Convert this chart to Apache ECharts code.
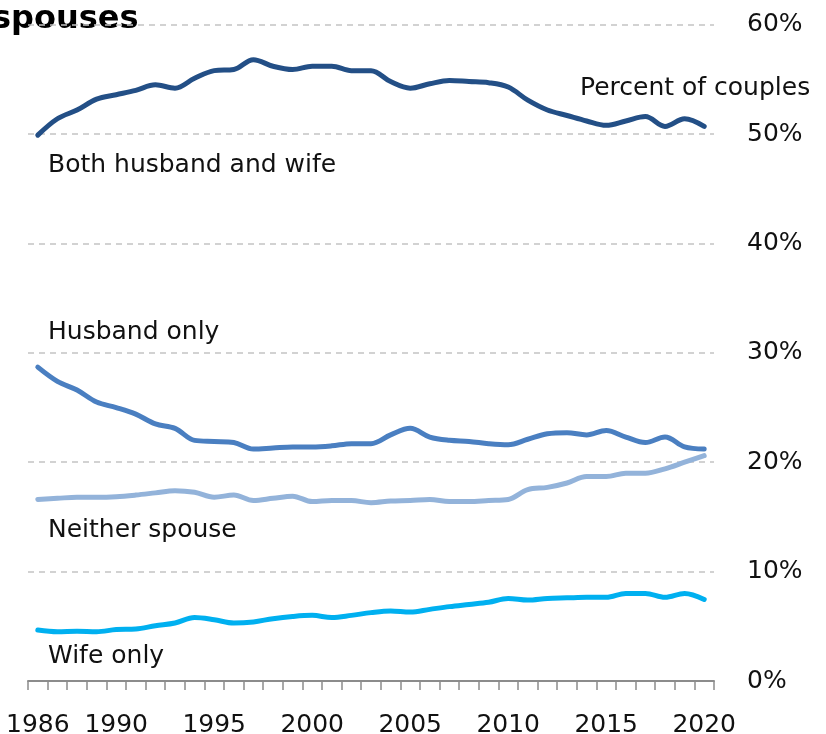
<!DOCTYPE html>
<html>
<head>
<meta charset="utf-8">
<title>Spouses</title>
<script src="https://cdn.jsdelivr.net/npm/echarts@6/dist/echarts.min.js"></script>
<style>
  html, body { margin: 0; padding: 0; background: #fff; }
  #chart { width: 826px; height: 734px; }
</style>
</head>
<body>
<div id="chart"></div>
<script>
// years on the x axis
var years = [];
for (var y = 1986; y <= 2020; y++) years.push(String(y));

// percent of couples
var bothSpouses = [49.9, 51.4, 52.2, 53.2, 53.6, 54.0, 54.5, 54.2, 55.1, 55.8,
  55.9, 56.8, 56.2, 55.9, 56.2, 56.2, 55.8, 55.8, 54.8, 54.2,
  54.6, 54.9, 54.8, 54.7, 54.3, 53.1, 52.2, 51.7, 51.2, 50.8,
  51.2, 51.6, 50.7, 51.4, 50.7];
var husbandOnly = [28.7, 27.4, 26.6, 25.5, 25.0, 24.4, 23.5, 23.1, 22.0, 21.9,
  21.8, 21.2, 21.3, 21.4, 21.4, 21.5, 21.7, 21.7, 22.5, 23.1,
  22.3, 22.0, 21.9, 21.7, 21.6, 22.1, 22.6, 22.7, 22.5, 22.9,
  22.3, 21.8, 22.3, 21.4, 21.2];
var neitherSpouse = [16.6, 16.7, 16.8, 16.8, 16.85, 17.0, 17.2, 17.4, 17.25, 16.8,
  17.0, 16.5, 16.7, 16.9, 16.4, 16.5, 16.5, 16.3, 16.45, 16.5,
  16.6, 16.4, 16.4, 16.5, 16.6, 17.5, 17.7, 18.1, 18.7, 18.7,
  19.0, 19.0, 19.4, 20.0, 20.6];
var wifeOnly = [4.66, 4.5, 4.55, 4.5, 4.7, 4.75, 5.05, 5.3, 5.8, 5.6,
  5.3, 5.4, 5.7, 5.9, 6.0, 5.8, 6.0, 6.25, 6.4, 6.3,
  6.55, 6.8, 7.0, 7.2, 7.55, 7.4, 7.55, 7.6, 7.65, 7.65,
  8.0, 8.0, 7.65, 8.0, 7.45];

var yTicks = [0, 10, 20, 30, 40, 50, 60];

var font = 'DejaVu Sans';
var myChart = echarts.init(document.getElementById('chart'));

function line(name, data, color) {
  return {
    name: name,
    type: 'line',
    data: data,
    smooth: 0.35,
    showSymbol: false,
    lineStyle: { color: color, width: 5, cap: 'round', join: 'round' }
  };
}

function label(text, x, y) {
  return {
    type: 'text',
    left: x,
    top: y,
    style: { text: text, fill: '#111', font: '25px "' + font + '"', verticalAlign: 'middle' }
  };
}

var option = {
  animation: false,
  backgroundColor: '#fff',
  grid: { left: 28, right: 112, top: 24.7, bottom: 53, containLabel: false, outerBoundsMode: 'none' },
  xAxis: {
    type: 'category',
    data: years,
    boundaryGap: true,
    axisLine: { lineStyle: { color: '#8c8c8c', width: 2 } },
    axisTick: { show: true, interval: 0, length: 9, lineStyle: { color: '#8c8c8c', width: 1.5 } },
    axisLabel: {
      interval: function (i, v) { return v === '1986' || Number(v) % 5 === 0; },
      color: '#111', fontSize: 25, fontFamily: font, margin: 32
    },
    splitLine: { show: false }
  },
  yAxis: {
    type: 'value',
    position: 'right',
    min: yTicks[0],
    max: yTicks[yTicks.length - 1],
    interval: 10,
    axisLine: { show: false },
    axisTick: { show: false },
    axisLabel: {
      formatter: '{value}%', align: 'left', margin: 33,
      color: '#111', fontSize: 25, fontFamily: font
    },
    splitLine: { lineStyle: { color: '#c4c4c4', width: 1.5, type: [6, 5] } }
  },
  series: [
    line('Both husband and wife', bothSpouses, '#234f86'),
    line('Husband only', husbandOnly, '#4a7fc1'),
    line('Neither spouse', neitherSpouse, '#93b3da'),
    line('Wife only', wifeOnly, '#00b0f0')
  ],
  graphic: [
    {
      type: 'text', left: -8, top: 4,
      style: { text: 'spouses', fill: '#000', font: 'bold 32px "' + font + '"' }
    },
    label('Percent of couples', 580, 76),
    label('Both husband and wife', 48, 153),
    label('Husband only', 48, 320),
    label('Neither spouse', 48, 518),
    label('Wife only', 48, 644)
  ]
};

myChart.setOption(option);
</script>
</body>
</html>
